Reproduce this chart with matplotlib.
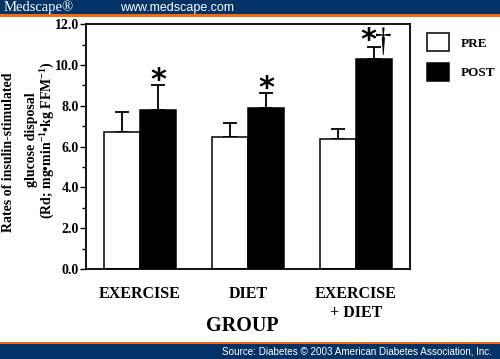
import matplotlib
matplotlib.use('Agg')
import matplotlib.pyplot as plt
import numpy as np
from matplotlib.ticker import MultipleLocator
from matplotlib.patches import Rectangle

# Data
groups = ['EXERCISE', 'DIET', 'EXERCISE\n+ DIET']
pre_values = [6.73, 6.47, 6.39]
pre_err = [0.98, 0.67, 0.49]
post_values = [7.81, 7.87, 10.29]
post_err = [1.21, 0.74, 0.61]
post_marks = ['*', '*', '*']
dagger_marks = ['', '', '\u2020']

serif = 'Liberation Serif'
plt.rcParams['mathtext.fontset'] = 'custom'
plt.rcParams['mathtext.rm'] = 'Liberation Serif:bold'
plt.rcParams['mathtext.bf'] = 'Liberation Serif:bold'
plt.rcParams['mathtext.it'] = 'Liberation Serif:bold'

fig = plt.figure(figsize=(5.0, 3.59), dpi=100)
fig.patch.set_facecolor('white')

# Medscape header / footer bands
fig.add_artist(Rectangle((0, 1 - 14.5/359), 1, 14.5/359, transform=fig.transFigure,
                         facecolor='#033366', edgecolor='none'))
fig.add_artist(Rectangle((0, 1 - 17/359), 1, 2.5/359, transform=fig.transFigure,
                         facecolor='#f26b10', edgecolor='none'))
fig.add_artist(Rectangle((0, 0), 1, 15/359, transform=fig.transFigure,
                         facecolor='#033366', edgecolor='none'))
fig.add_artist(Rectangle((0, 15/359), 1, 2.5/359, transform=fig.transFigure,
                         facecolor='#f26b10', edgecolor='none'))
fig.text(0.008, 1 - 7.5/359, 'Medscape\u00ae', color='white', fontsize=10.5,
         family=serif, va='center', ha='left')
fig.text(0.24, 1 - 7.5/359, 'www.medscape.com', color='white', fontsize=9,
         family='Liberation Sans', va='center', ha='left')
fig.text(0.984, 7.5/359, 'Source: Diabetes \u00a9 2003 American Diabetes Association, Inc.',
         color='white', fontsize=7.1, family='Liberation Sans', va='center', ha='right')

ax = fig.add_axes([0.172, 0.2507, 0.648, 0.682])
x = np.arange(len(groups))
width = 0.333

ax.bar(x - width/2, pre_values, width, color='white', edgecolor='black', linewidth=1.1,
       label='PRE', zorder=2)
ax.bar(x + width/2, post_values, width, color='black', edgecolor='black', linewidth=1.1,
       label='POST', zorder=2)
ax.errorbar(x - width/2, pre_values, yerr=[np.zeros(3), pre_err], fmt='none',
            ecolor='black', elinewidth=1.3, capsize=5, capthick=1.3, zorder=1)
ax.errorbar(x + width/2, post_values, yerr=[np.zeros(3), post_err], fmt='none',
            ecolor='black', elinewidth=1.3, capsize=5, capthick=1.3, zorder=1)

# significance marks above the POST bars
for i in range(len(groups)):
    top = post_values[i] + post_err[i]
    if dagger_marks[i]:
        ax.text(x[i] + width/2 - 0.055, top - 0.12, post_marks[i], ha='center',
                va='baseline', fontsize=22, family='DejaVu Sans', fontweight='bold')
        ax.text(x[i] + width/2 + 0.085, top - 0.55, dagger_marks[i], ha='center',
                va='bottom', fontsize=24, family=serif)
    else:
        ax.text(x[i] + width/2, top - 0.18, post_marks[i], ha='center',
                va='baseline', fontsize=22, family='DejaVu Sans', fontweight='bold')

ax.set_xlim(-0.5, 2.5)
ax.set_ylim(0, 12)
ax.yaxis.set_major_locator(MultipleLocator(2))
ax.yaxis.set_minor_locator(MultipleLocator(1))
ax.set_yticks([0, 2, 4, 6, 8, 10, 12])
ax.set_yticklabels(['0.0', '2.0', '4.0', '6.0', '8.0', '10.0', '12.0'],
                   fontsize=10, family=serif, fontweight='bold')
ax.tick_params(axis='y', which='major', length=4, width=1, pad=1)
ax.tick_params(axis='y', which='minor', length=3, width=1)
ax.set_xticks(x)
ax.set_xticklabels(groups, fontsize=11.5, family=serif, fontweight='bold', linespacing=1.25)
ax.tick_params(axis='x', length=0, pad=12)
for lbl in ax.get_xticklabels():
    lbl.set_verticalalignment('top')
for s in ax.spines.values():
    s.set_linewidth(1.3)

fig.text(0.484, 1 - 326/359, 'GROUP', ha='center', va='center', fontsize=14.5,
         family=serif, fontweight='bold')

fig.text(0.018, 1 - 152/359, 'Rates of insulin-stimulated', rotation=90, ha='center',
         va='center', fontsize=10, family=serif, fontweight='bold')
fig.text(0.062, 1 - 140/359, 'glucose disposal', rotation=90, ha='center', va='center',
         fontsize=10, family=serif, fontweight='bold')
fig.text(0.096, 1 - 140/359, '(Rd; mg\u2022min$^{-1}$\u2022kg FFM$^{-1}$)',
         rotation=90, ha='center', va='center', fontsize=10, family=serif, fontweight='bold')

leg = ax.legend(loc='upper left', bbox_to_anchor=(1.052, 0.963), frameon=False,
                prop={'family': serif, 'weight': 'bold', 'size': 9.5},
                handlelength=1.7, handleheight=1.75, handletextpad=0.9, labelspacing=0.85,
                borderaxespad=0, borderpad=0)

fig.savefig('out.png', dpi=100)
